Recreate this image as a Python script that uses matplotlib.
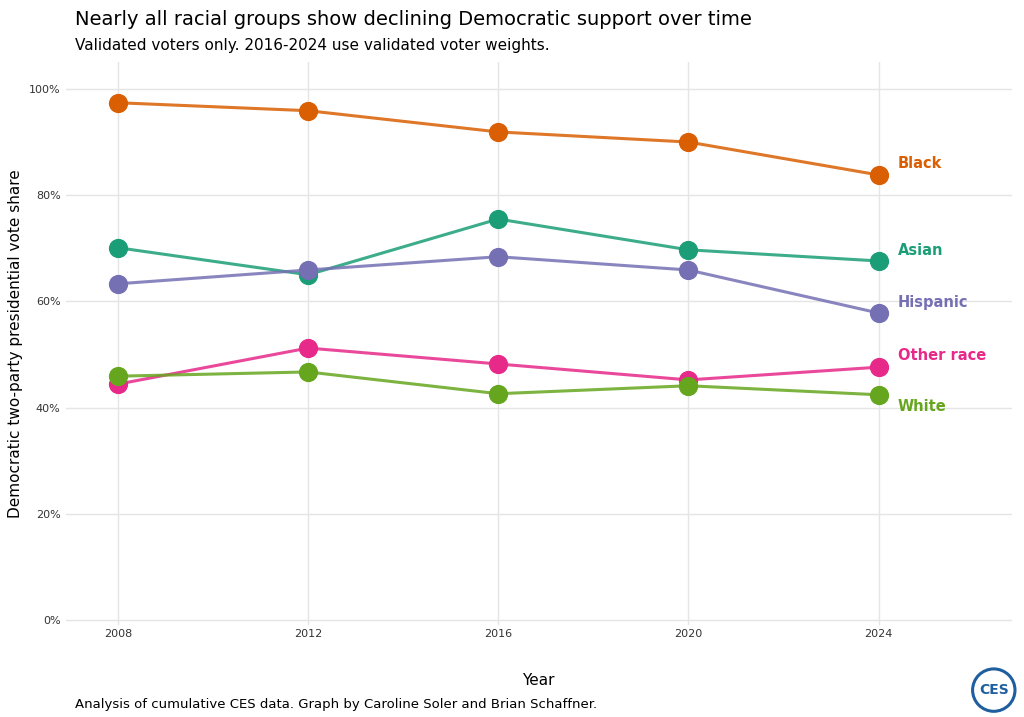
import matplotlib.pyplot as plt
from matplotlib.patches import Circle
from matplotlib.ticker import PercentFormatter

years = [2008, 2012, 2016, 2020, 2024]
groups = ["Black", "Asian", "Hispanic", "Other race", "White"]
black = [97.4, 95.9, 91.9, 90.0, 83.8]
asian = [70.1, 65.0, 75.5, 69.7, 67.6]
hispanic = [63.3, 65.9, 68.4, 65.9, 57.8]
other = [44.4, 51.2, 48.2, 45.2, 47.6]
white = [45.9, 46.7, 42.6, 44.1, 42.4]
series = [black, asian, hispanic, other, white]
colors = ["#D95F02", "#1B9E77", "#7570B3", "#E7298A", "#66A61E"]
label_y = [86, 69.5, 59.8, 49.8, 40.2]

fig = plt.figure(figsize=(10.24, 7.17), dpi=100)
ax = fig.add_axes([0.064, 0.128, 0.924, 0.785])

for vals, col in zip(series, colors):
    ax.plot(years, vals, color=col, lw=2.2, alpha=0.85, zorder=2)
    ax.scatter(years, vals, s=165, color=col, edgecolor=col, linewidth=1, zorder=3)
for name, col, ly in zip(groups, colors, label_y):
    ax.text(2024.4, ly, name, color=col, fontsize=10.5, fontweight="bold", va="center")

ax.set_xlim(2006.9, 2026.8)
ax.set_ylim(-1, 105)
ax.set_xticks(years)
ax.set_yticks(range(0, 101, 20))
ax.yaxis.set_major_formatter(PercentFormatter(decimals=0))
ax.grid(True, color="#e5e5e5", lw=1)
ax.set_axisbelow(True)
for s in ax.spines.values():
    s.set_visible(False)
ax.tick_params(length=0, labelsize=8, colors="#333333")
ax.tick_params(axis="x", pad=3)
ax.set_xlabel("Year", fontsize=11, labelpad=24)
ax.set_ylabel("Democratic two-party presidential vote share", fontsize=11)

fig.text(0.073, 0.965, "Nearly all racial groups show declining Democratic support over time", fontsize=14)
fig.text(0.073, 0.93, "Validated voters only. 2016-2024 use validated voter weights.", fontsize=11)
fig.text(0.073, 0.012, "Analysis of cumulative CES data. Graph by Caroline Soler and Brian Schaffner.", fontsize=9.5)

logo = fig.add_axes([0.948, 0.005, 0.045, 0.065])
logo.set_xlim(-1, 1)
logo.set_ylim(-1, 1)
logo.set_aspect("equal")
logo.axis("off")
logo.add_patch(Circle((0, 0), 0.92, fill=False, ec="#1f5fa0", lw=2.2))
logo.text(0, 0, "CES", ha="center", va="center", color="#1f5fa0", fontsize=10, fontweight="bold")

fig.savefig("out.png", dpi=100)
